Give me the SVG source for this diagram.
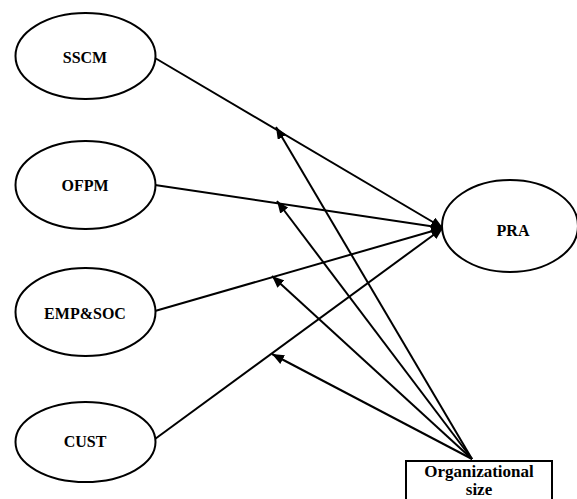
<svg xmlns="http://www.w3.org/2000/svg" width="577" height="499" viewBox="0 0 577 499">
<style>
.node ellipse, .node rect { fill: #fff; stroke: #000; stroke-width: 2; }
.node text { font-family: "Liberation Serif", "Times New Roman", serif; font-weight: bold; font-size: 16px; text-anchor: middle; fill: #000; }
.edges line { stroke: #000; stroke-width: 2; fill: none; marker-end: url(#arr); }
</style>
<defs>
<marker id="arr" markerUnits="userSpaceOnUse" viewBox="0 0 12 10" refX="12" refY="5" markerWidth="12" markerHeight="10" orient="auto">
<path d="M0,0 L12,5 L0,10 Z" fill="#000"/>
</marker>
</defs>
<g class="edges">
<line x1="155" y1="58" x2="443" y2="228"/>
<line x1="155" y1="185" x2="443" y2="228"/>
<line x1="155" y1="311" x2="443" y2="228"/>
<line x1="155" y1="439" x2="443" y2="228"/>
<line x1="472" y1="459" x2="276" y2="127"/>
<line x1="472" y1="459" x2="277" y2="201"/>
<line x1="472" y1="459" x2="272" y2="276"/>
<line x1="472" y1="459" x2="272" y2="354"/>
</g>
<g id="SSCM" class="node">
<ellipse cx="85.5" cy="56" rx="70" ry="43"/>
<text x="85" y="63">SSCM</text>
</g>
<g id="OFPM" class="node">
<ellipse cx="85.5" cy="185" rx="70" ry="44"/>
<text x="85" y="191">OFPM</text>
</g>
<g id="EMPSOC" class="node">
<ellipse cx="85.5" cy="312" rx="70" ry="44"/>
<text x="85" y="319">EMP&amp;SOC</text>
</g>
<g id="CUST" class="node">
<ellipse cx="85.5" cy="442" rx="70" ry="40"/>
<text x="85" y="447">CUST</text>
</g>
<g id="PRA" class="node">
<ellipse cx="510" cy="226" rx="68" ry="46"/>
<text x="513" y="236">PRA</text>
</g>
<g id="OrgSize" class="node">
<rect x="406" y="461" width="146" height="50"/>
<text x="479" y="477" style="font-size:17px">Organizational</text>
<text x="479" y="495" style="font-size:17px">size</text>
</g>
</svg>
